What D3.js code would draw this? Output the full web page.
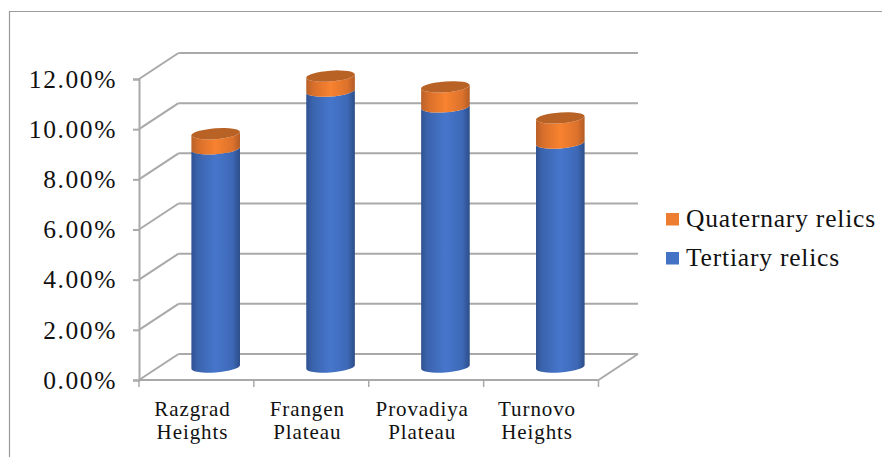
<!DOCTYPE html>
<html>
<head>
<meta charset="utf-8">
<script src="https://cdn.jsdelivr.net/npm/d3@7"></script>
<style>
html,body{margin:0;padding:0;background:#fff}
svg{display:block}
text{font-family:"Liberation Serif",serif;fill:#111}
</style>
</head>
<body>
<svg id="chart" width="882" height="457"></svg>
<script>
const categories = [["Razgrad","Heights"],["Frangen","Plateau"],["Provadiya","Plateau"],["Turnovo","Heights"]];
const tertiary = [8.7, 11.0, 10.37, 8.93];
const quaternary = [0.6, 0.6, 0.8, 1.0];
const yTicks = [0, 2, 4, 6, 8, 10, 12];
const legendLabels = ["Quaternary relics", "Tertiary relics"];

const svg = d3.select("#chart");
const gridColor = "#a9a9a9";
const depthX = 39.5, depthY = -26;

const x = d3.scaleBand().domain(d3.range(categories.length)).range([139, 598.5]);
const y = d3.scaleLinear().domain([0, 12]).range([380, 79]);

// Frame
svg.append("path").attr("d", "M9.5,457V11.5H882").attr("fill", "none")
  .attr("stroke", "#9a9a9a").attr("stroke-width", 1.2);

// Gradients
const defs = svg.append("defs");
function cylGradient(id, stops) {
  const g = defs.append("linearGradient").attr("id", id);
  stops.forEach(([o, c]) => g.append("stop").attr("offset", o).attr("stop-color", c));
}
cylGradient("blueBody", [[0,"#2f5290"],[0.12,"#3a63ac"],[0.5,"#4676cc"],[0.85,"#3d68b6"],[1,"#2c4d88"]]);
cylGradient("orangeBody", [[0,"#b9612a"],[0.15,"#d86f2b"],[0.5,"#f8822f"],[0.85,"#dc722c"],[1,"#b25c26"]]);

// Back wall gridlines and left side wall
const walls = svg.append("g").attr("fill", "none").attr("stroke", gridColor).attr("stroke-width", 2);
walls.selectAll("line.back").data(yTicks).join("line").attr("class", "back")
  .attr("x1", x.range()[0] + depthX).attr("x2", x.range()[1] + depthX)
  .attr("y1", d => y(d) + depthY).attr("y2", d => y(d) + depthY);
walls.selectAll("line.side").data(yTicks).join("line").attr("class", "side")
  .attr("x1", x.range()[0]).attr("x2", x.range()[0] + depthX)
  .attr("y1", d => y(d)).attr("y2", d => y(d) + depthY);
walls.append("line")
  .attr("x1", x.range()[1]).attr("x2", x.range()[1] + depthX)
  .attr("y1", y(0)).attr("y2", y(0) + depthY);

// Value axis
const yAxis = svg.append("g").attr("transform", `translate(${x.range()[0]},0)`)
  .call(d3.axisLeft(y).tickValues(yTicks).tickSize(6).tickPadding(16)
    .tickFormat(d => d.toFixed(2) + "%"));
yAxis.selectAll("path,line").attr("stroke", gridColor).attr("stroke-width", 2);
yAxis.selectAll("text").attr("font-size", 25.5).attr("letter-spacing", 1.6)
  .attr("font-family", "Liberation Serif").attr("dy", "0.32em");

// Category axis: baseline and ticks at band boundaries
const xAxis = svg.append("g");
xAxis.append("line").attr("x1", x.range()[0]).attr("x2", x.range()[1])
  .attr("y1", y(0)).attr("y2", y(0)).attr("stroke", gridColor).attr("stroke-width", 2);
xAxis.selectAll("line.tick").data(d3.range(categories.length + 1)).join("line").attr("class", "tick")
  .attr("x1", i => x.range()[0] + i * x.step()).attr("x2", i => x.range()[0] + i * x.step())
  .attr("y1", y(0)).attr("y2", y(0) + 7).attr("stroke", gridColor).attr("stroke-width", 1.5);
xAxis.selectAll("text").data(categories).join("text")
  .attr("text-anchor", "middle").attr("font-size", 21).attr("letter-spacing", 0.9)
  .each(function (d, i) {
    const cx = x(i) + x.bandwidth() / 2 - 4;
    d3.select(this).selectAll("tspan").data(d).join("tspan")
      .attr("x", cx).attr("y", (_, k) => 416 + k * 23).text(t => t);
  });

// Cylinders: each stands on the mid-depth plane, its ellipses sheared by the view angle
const r = 24.3, ry = 5.4, skew = -4;
const yMid = v => y(v) + depthY / 2;
function body(v0, v1) {
  return `M${-r},${yMid(v0)}A${r},${ry} 0 0 0 ${r},${yMid(v0)}L${r},${yMid(v1)}A${r},${ry} 0 0 1 ${-r},${yMid(v1)}Z`;
}
const bars = svg.append("g").selectAll("g").data(categories).join("g")
  .attr("transform", (_, i) => `translate(${x(i) + x.bandwidth() / 2 + depthX / 2 - 0.5},0) skewY(${skew})`);
bars.append("path").attr("d", (_, i) => body(0, tertiary[i])).attr("fill", "url(#blueBody)");
bars.append("path").attr("d", (_, i) => body(tertiary[i], tertiary[i] + quaternary[i])).attr("fill", "url(#orangeBody)");
bars.append("ellipse").attr("rx", r).attr("ry", ry)
  .attr("cy", (_, i) => yMid(tertiary[i] + quaternary[i])).attr("fill", "#b96226");

// Legend
const legendColor = ["#ed7d31", "#4472c4"];
const legend = svg.append("g").selectAll("g").data(legendLabels).join("g")
  .attr("transform", (_, i) => `translate(666,${213 + i * 39})`);
legend.append("rect").attr("width", 13).attr("height", 12.5).attr("fill", (_, i) => legendColor[i]);
legend.append("text").attr("x", 20).attr("y", 14).attr("font-size", 25.5).attr("letter-spacing", 0.8).text(d => d);
</script>
</body>
</html>
